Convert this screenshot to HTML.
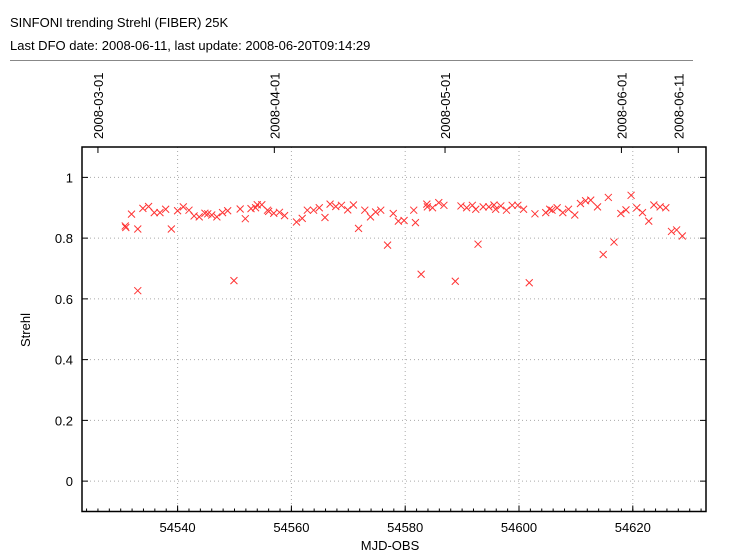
<!DOCTYPE html>
<html><head><meta charset="utf-8">
<style>
body{margin:0;background:#fff;width:730px;height:554px;overflow:hidden;font-family:"Liberation Sans",sans-serif;}
svg text{font-family:"Liberation Sans",sans-serif;fill:#000;}
</style></head><body>
<svg id="chart" width="730" height="554" xmlns="http://www.w3.org/2000/svg">
<text x="10" y="27" font-size="13">SINFONI trending Strehl (FIBER) 25K</text>
<text x="10" y="50" font-size="13">Last DFO date: 2008-06-11, last update: 2008-06-20T09:14:29</text>
<line x1="10" y1="60.5" x2="693" y2="60.5" stroke="#888"/>
<g id="grid"></g><g id="axes"></g><g id="points"></g>
<text x="390" y="550" font-size="13" text-anchor="middle">MJD-OBS</text>
<text transform="translate(30,330) rotate(-90)" font-size="13" text-anchor="middle">Strehl</text>
</svg>
<script>
const mjd=[54530.8,54530.9,54531.9,54533,54533,54533.9,54534.9,54535.9,54536.9,54537.9,54538.9,54540,54541,54542,54542.9,54543.8,54544.8,54545.3,54546,54546.9,54547.9,54548.8,54549.9,54551,54551.9,54552.9,54553.7,54554,54554.8,54555.8,54556,54556.9,54557.9,54558.8,54560.9,54561.9,54562.8,54563.9,54564.9,54565.9,54566.8,54567.8,54568.8,54569.9,54570.9,54571.8,54572.9,54573.9,54574.8,54575.7,54576.9,54577.9,54578.8,54579.8,54581.5,54581.8,54582.8,54583.8,54583.9,54584.8,54585.9,54586.8,54588.8,54589.8,54590.8,54591.8,54592.4,54592.8,54593.7,54594.7,54595.6,54595.9,54596.8,54597.8,54598.8,54599.8,54600.8,54601.8,54602.8,54604.7,54605.4,54605.8,54606.7,54607.7,54608.7,54609.8,54610.8,54611.7,54612.6,54613.8,54614.8,54615.7,54616.7,54617.9,54618.8,54619.7,54620.7,54621.7,54622.8,54623.7,54624.8,54625.8,54626.8,54627.7,54628.7];
const strehl=[0.84,0.835,0.879,0.83,0.627,0.898,0.904,0.884,0.884,0.895,0.83,0.89,0.903,0.892,0.873,0.87,0.882,0.88,0.876,0.87,0.884,0.89,0.66,0.896,0.864,0.897,0.9,0.91,0.91,0.892,0.888,0.882,0.885,0.874,0.853,0.865,0.892,0.892,0.9,0.868,0.912,0.904,0.908,0.893,0.909,0.832,0.892,0.87,0.886,0.892,0.777,0.881,0.856,0.858,0.892,0.851,0.681,0.912,0.903,0.9,0.917,0.908,0.658,0.906,0.9,0.908,0.895,0.78,0.903,0.903,0.909,0.895,0.906,0.892,0.908,0.908,0.895,0.653,0.88,0.884,0.895,0.892,0.9,0.884,0.895,0.876,0.914,0.923,0.925,0.903,0.746,0.934,0.787,0.881,0.893,0.941,0.9,0.884,0.856,0.909,0.903,0.9,0.822,0.827,0.807];
const xTicks=[54540,54560,54580,54600,54620];
const yTicks=[0,0.2,0.4,0.6,0.8,1];
const yTickLabels=["0","0.2","0.4","0.6","0.8","1"];
const dateTicks=[54526,54557,54587,54618,54628];
const dateLabels=["2008-03-01","2008-04-01","2008-05-01","2008-06-01","2008-06-11"];
const L=82,R=706,T=147,B=511.5;
const xMin=54540-(177.6-L)/5.69, xMax=54540+(R-177.6)/5.69;
const yMin=-0.1,yMax=1.1;
const X=v=>L+(v-xMin)/(xMax-xMin)*(R-L);
const Y=v=>B-(v-yMin)/(yMax-yMin)*(B-T);
const NS="http://www.w3.org/2000/svg";
function mk(tag,attrs,parent,txt){const e=document.createElementNS(NS,tag);for(const k in attrs)e.setAttribute(k,attrs[k]);if(txt!==undefined)e.textContent=txt;document.getElementById(parent).appendChild(e);return e;}
xTicks.forEach(v=>{
 const g=mk('line',{x1:X(v),x2:X(v),y1:T,y2:B,stroke:'#aaa','stroke-dasharray':'1,3'},'grid');
 
 
 const t=mk('line',{x1:X(v),x2:X(v),y1:B,y2:B-6,stroke:'#000'},'axes');
 
 
 const l=mk('text',{x:X(v),y:532,'font-size':13,'text-anchor':'middle'},'axes',String(v));
 
 
});
for(let d=Math.ceil(xMin);d<=xMax;d++){ if(d%2) continue;
 const m=mk('line',{x1:X(d),x2:X(d),y1:B,y2:B-3,stroke:'#000'},'axes');
 
 
}
yTicks.forEach((v,i)=>{
 const g=mk('line',{x1:L,x2:R,y1:Y(v),y2:Y(v),stroke:'#aaa','stroke-dasharray':'1,3'},'grid');
 
 
 const t=mk('line',{x1:L,x2:L+6,y1:Y(v),y2:Y(v),stroke:'#000'},'axes');
 
 
 const t2=mk('line',{x1:R,x2:R-6,y1:Y(v),y2:Y(v),stroke:'#000'},'axes');
 
 
 const l=mk('text',{x:73,y:Y(v)+5,'font-size':13,'text-anchor':'end'},'axes',yTickLabels[i]);
 
 
});
dateTicks.forEach((v,i)=>{
 const t=mk('line',{x1:X(v),x2:X(v),y1:T,y2:T+6,stroke:'#000'},'axes');
 
 
 const l=mk('text',{transform:`translate(${X(v)+5},${T-8}) rotate(-90)`,'font-size':13},'axes',dateLabels[i]);
 
 
});
const fr=mk('rect',{x:L,y:T,width:R-L,height:B-T,fill:'none',stroke:'#000','stroke-width':1.5},'axes');


mjd.forEach((v,i)=>{
 const x=X(v),y=Y(strehl[i]),s=3.5;
 const p=mk('path',{d:`M${x-s},${y-s}L${x+s},${y+s}M${x-s},${y+s}L${x+s},${y-s}`,stroke:'#f33','stroke-width':1},'points');
 
 
});
</script>
</body></html>
